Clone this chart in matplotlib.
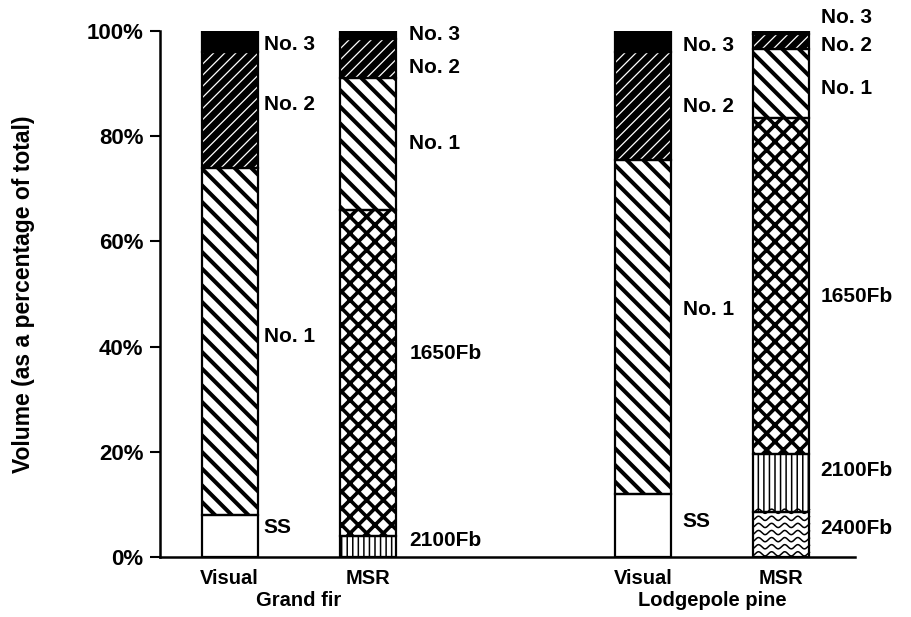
import numpy as np
import matplotlib
matplotlib.use('Agg')
import matplotlib.pyplot as plt
import matplotlib.transforms as mtransforms

plt.rcParams['font.family'] = ['Liberation Sans', 'DejaVu Sans']
plt.rcParams['font.weight'] = 'bold'

# bars: Grand fir Visual, Grand fir MSR, Lodgepole Visual, Lodgepole MSR
species = ['Grand fir', 'Lodgepole pine']
methods = ['Visual', 'MSR', 'Visual', 'MSR']
xpos = [0, 1, 3, 4]

visual_grades = ['SS', 'No. 1', 'No. 2', 'No. 3']
gf_msr_grades = ['2100Fb', '1650Fb', 'No. 1', 'No. 2', 'No. 3']
lp_msr_grades = ['2400Fb', '2100Fb', '1650Fb', 'No. 1', 'No. 2', 'No. 3']

# volume in percent, bottom to top
gf_visual_pct = [8, 66, 22, 4]
gf_msr_pct = [4, 62, 25, 7.5, 1.5]
lp_visual_pct = [12, 63.5, 20.5, 4]
lp_msr_pct = [8.5, 11, 64, 13, 3, 0.5]

# where each grade name sits (percent)
gf_visual_lab = [5.7, 42, 86, 97.5]
gf_msr_lab = [3.2, 38.7, 78.6, 93, 99.4]
lp_visual_lab = [6.8, 47, 85.6, 97.2]
lp_msr_lab = [5.5, 16.5, 49.5, 89, 97.2, 102.5]

bars = [(visual_grades, gf_visual_pct, gf_visual_lab),
        (gf_msr_grades, gf_msr_pct, gf_msr_lab),
        (visual_grades, lp_visual_pct, lp_visual_lab),
        (lp_msr_grades, lp_msr_pct, lp_msr_lab)]

# face, hatch, hatch colour, hatch width
style = {
    'SS': ('white', None, 'black', 1.0),
    'No. 1': ('white', '\\\\', 'black', 2.9),
    'No. 2': ('black', '///', 'white', 0.9),
    'No. 3': ('black', None, 'black', 1.0),
    '1650Fb': ('white', 'xx', 'black', 2.6),
    '2100Fb': ('white', '|||', 'black', 1.1),
    '2400Fb': ('white', None, 'black', 1.0),
}

W = 0.406
fig = plt.figure(figsize=(9.11, 6.17), dpi=100)
ax = fig.add_axes([160/911, 60/617, 695/911, 526/617])
ax.set_xlim(-0.504, 4.533)
ax.set_ylim(0, 100)

lab_off = [0.045, 0.1, 0.08, 0.08]

for x, (grades, pct, labs), off in zip(xpos, bars, lab_off):
    bottom = 0
    for g, v, ly in zip(grades, pct, labs):
        fc, h, hc, hlw = style[g]
        b = ax.bar(x, v, W, bottom=bottom, color=fc, edgecolor=hc,
                   hatch=h, linewidth=0, zorder=2)
        p = b.patches[0]
        if h:
            try:
                p.set_hatch_linewidth(hlw)
            except AttributeError:
                pass
        if g == '2400Fb':
            xs = np.linspace(x - W/2, x + W/2, 200)
            for yy in np.arange(bottom + 0.6, bottom + v + 1.5, 1.35):
                ax.plot(xs, yy + 0.4*np.sin((xs - x) * 2*np.pi / 0.095),
                        color='black', lw=1.1, clip_path=p, zorder=3)
        ax.bar(x, v, W, bottom=bottom, fill=False, edgecolor='black',
               linewidth=1.6, zorder=4)
        ax.text(x + W/2 + off, ly, g, fontsize=15, fontweight='bold',
                va='center', ha='left', clip_on=False)
        bottom += v

ax.spines['top'].set_visible(False)
ax.spines['right'].set_visible(False)
ax.spines['left'].set_linewidth(1.8)
ax.spines['bottom'].set_linewidth(1.8)

ax.set_yticks(range(0, 101, 20))
ax.set_yticklabels(['%d%%' % t for t in range(0, 101, 20)],
                   fontsize=16, fontweight='bold')
ax.tick_params(axis='y', length=7, width=1.5, pad=5)

ax.set_xticks(xpos)
ax.set_xticklabels(methods, fontsize=14.5, fontweight='bold')
ax.tick_params(axis='x', length=0, pad=9)

trans = mtransforms.blended_transform_factory(ax.transData, ax.transAxes)
ax.text(0.5, -0.082, species[0], transform=trans, ha='center', va='center',
        fontsize=14.5, fontweight='bold')
ax.text(3.5, -0.082, species[1], transform=trans, ha='center', va='center',
        fontsize=14.5, fontweight='bold')

ax.set_ylabel('Volume (as a percentage of total)', fontsize=16.5,
              fontweight='bold', labelpad=37)

fig.savefig('out.png', dpi=100)
